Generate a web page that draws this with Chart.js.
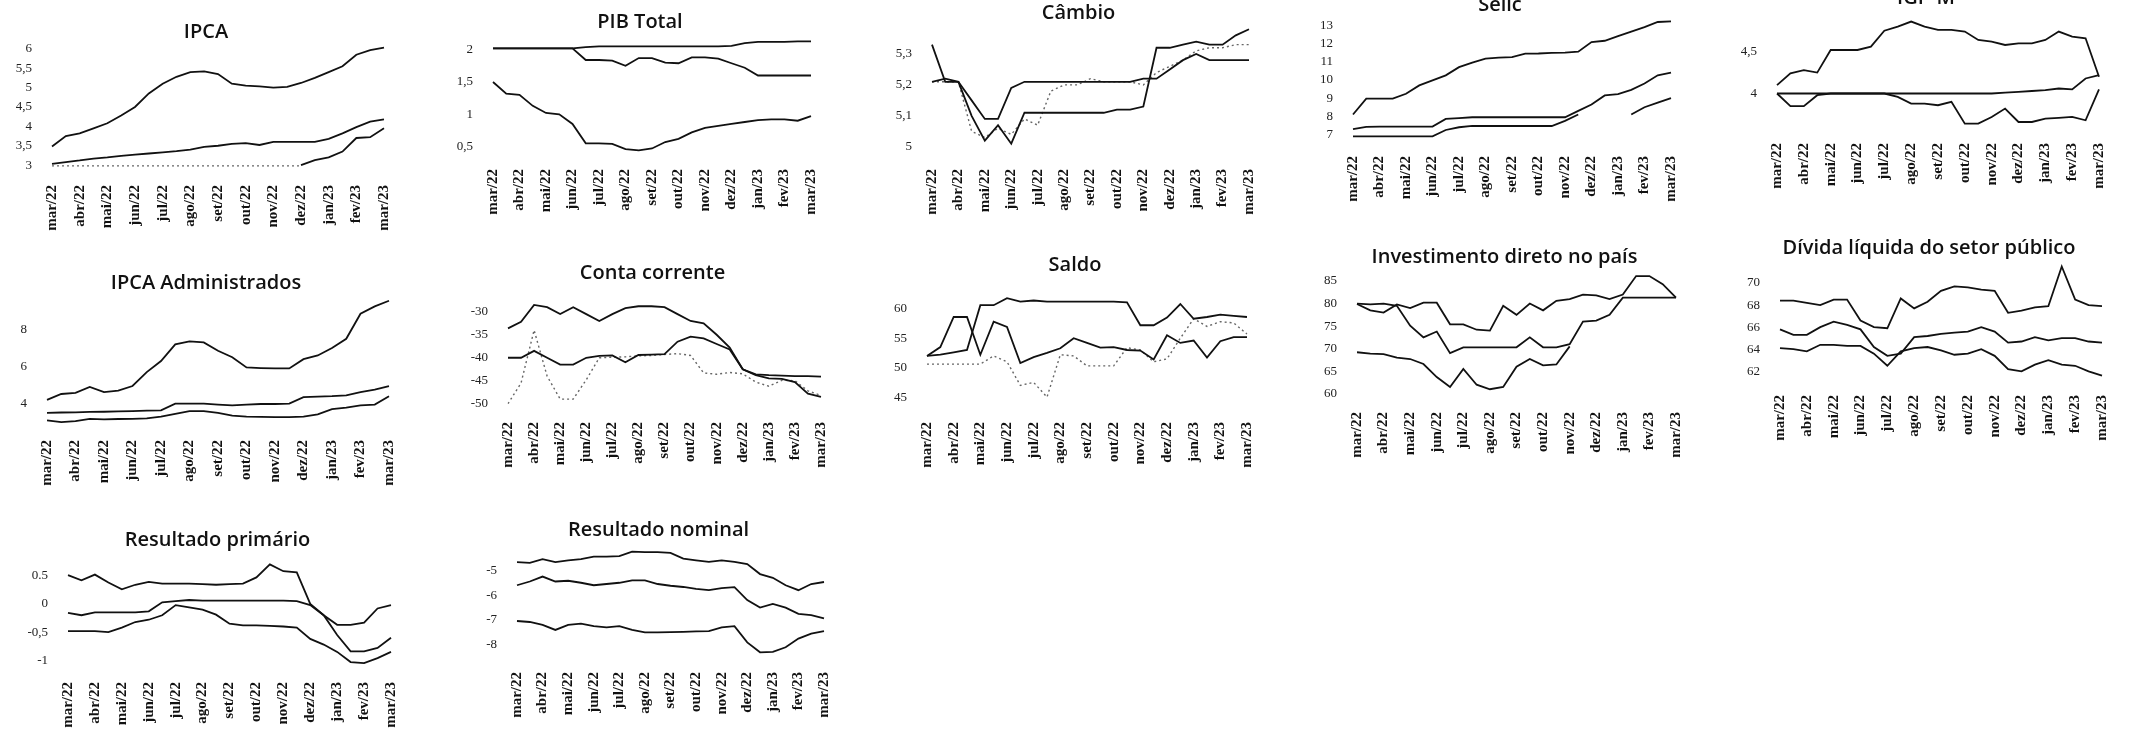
<!DOCTYPE html>
<html>
<head>
<meta charset="utf-8">
<script src="https://cdn.jsdelivr.net/npm/chart.js@4"></script>
<style>
  body { margin: 0; width: 2144px; height: 733px; overflow: hidden; background: #fff; position: relative; }
  canvas { position: absolute; }
</style>
</head>
<body>
<script>
// eixo x: meses, um ponto a cada quinzena
const meses = ["mar/22","abr/22","mai/22","jun/22","jul/22","ago/22","set/22","out/22","nov/22","dez/22","jan/23","fev/23","mar/23"];
const rotulosX = meses.flatMap((m, i) => i < meses.length - 1 ? [m, ""] : [m]);

// IPCA
const ipcaA = [3.48,3.75,3.82,3.95,4.08,4.28,4.5,4.85,5.1,5.28,5.4,5.42,5.35,5.1,5.05,5.03,5.0,5.02,5.12,5.25,5.4,5.55,5.85,5.97,6.03];
const ipcaB = [3.03,3.08,3.12,3.17,3.2,3.24,3.27,3.3,3.33,3.36,3.4,3.47,3.5,3.55,3.57,3.52,3.6,3.6,3.6,3.6,3.68,3.82,3.98,4.12,4.18];
const ipcaC = [null,null,null,null,null,null,null,null,null,null,null,null,null,null,null,null,null,null,3.0,3.13,3.2,3.35,3.7,3.72,3.95];
const ipcaD = [2.98,2.98,2.98,2.98,2.98,2.98,2.98,2.98,2.98,2.98,2.98,2.98,2.98,2.98,2.98,2.98,2.98,2.98,2.98,null,null,null,null,null,null];
const ipcaTicks = [3,3.5,4,4.5,5,5.5,6];
const ipcaTickLabels = ["3","3,5","4","4,5","5","5,5","6"];

// PIB Total
const pibA = [2.02,2.02,2.02,2.02,2.02,2.02,2.02,2.04,2.05,2.05,2.05,2.05,2.05,2.05,2.05,2.05,2.05,2.05,2.06,2.1,2.12,2.12,2.12,2.13,2.13];
const pibB = [2.02,2.02,2.02,2.02,2.02,2.02,2.02,1.84,1.84,1.83,1.75,1.87,1.87,1.8,1.79,1.88,1.88,1.86,1.79,1.72,1.6,1.6,1.6,1.6,1.6];
const pibC = [1.5,1.32,1.3,1.13,1.02,1.0,0.85,0.55,0.55,0.54,0.46,0.44,0.47,0.57,0.62,0.72,0.79,0.82,0.85,0.88,0.91,0.92,0.92,0.9,0.97];
const pibTicks = [0.5,1,1.5,2];
const pibTickLabels = ["0,5","1","1,5","2"];

// Câmbio
const cambioA = [5.33,5.21,5.21,5.15,5.09,5.09,5.19,5.21,5.21,5.21,5.21,5.21,5.21,5.21,5.21,5.21,5.22,5.22,5.25,5.28,5.3,5.28,5.28,5.28,5.28];
const cambioB = [5.21,5.22,5.21,5.1,5.02,5.07,5.01,5.11,5.11,5.11,5.11,5.11,5.11,5.11,5.12,5.12,5.13,5.32,5.32,5.33,5.34,5.33,5.33,5.36,5.38];
const cambioC = [5.21,5.21,5.21,5.05,5.03,5.06,5.04,5.09,5.07,5.18,5.2,5.2,5.22,5.21,5.21,5.21,5.2,5.24,5.26,5.28,5.31,5.32,5.32,5.33,5.33];
const cambioTicks = [5,5.1,5.2,5.3];
const cambioTickLabels = ["5","5,1","5,2","5,3"];

// Selic
const selicA = [8.1,8.97,8.97,8.97,9.24,9.7,9.97,10.25,10.7,10.95,11.17,11.22,11.25,11.44,11.45,11.48,11.5,11.55,12.08,12.15,12.4,12.65,12.9,13.18,13.22];
const selicB = [7.3,7.42,7.44,7.44,7.44,7.44,7.44,7.86,7.9,7.95,7.95,7.95,7.95,7.95,7.95,7.95,7.95,8.3,8.65,9.15,9.22,9.45,9.8,10.25,10.4];
const selicC = [6.9,6.9,6.9,6.9,6.9,6.9,6.9,7.25,7.4,7.47,7.47,7.47,7.47,7.47,7.47,7.47,7.75,8.1,null,null,null,null,null,null,null];
const selicD = [null,null,null,null,null,null,null,null,null,null,null,null,null,null,null,null,null,null,null,null,null,8.1,8.5,8.75,9.0];
const selicTicks = [7,8,9,10,11,12,13];
const selicTickLabels = ["7","8","9","10","11","12","13"];

// IGP-M
const igpA = [4.1,4.24,4.28,4.25,4.52,4.52,4.52,4.56,4.75,4.8,4.86,4.8,4.76,4.76,4.74,4.64,4.62,4.58,4.6,4.6,4.64,4.74,4.68,4.66,4.2];
const igpB = [4.0,4.0,4.0,4.0,4.0,4.0,4.0,4.0,4.0,4.0,4.0,4.0,4.0,4.0,4.0,4.0,4.0,4.01,4.02,4.03,4.04,4.06,4.05,4.18,4.22];
const igpC = [4.0,3.85,3.85,3.98,4.0,4.0,4.0,4.0,4.0,3.96,3.88,3.88,3.86,3.9,3.64,3.64,3.72,3.82,3.66,3.66,3.7,3.71,3.72,3.68,4.05];
const igpTicks = [4,4.5];
const igpTickLabels = ["4","4,5"];

// IPCA Administrados
const admA = [4.2,4.52,4.58,4.9,4.62,4.7,4.95,5.7,6.3,7.2,7.36,7.3,6.85,6.5,5.95,5.92,5.9,5.9,6.4,6.6,7.0,7.5,8.85,9.25,9.55];
const admB = [3.5,3.52,3.53,3.55,3.56,3.58,3.6,3.62,3.64,4.0,4.0,4.0,3.95,3.9,3.95,3.98,3.98,4.0,4.35,4.38,4.4,4.45,4.62,4.75,4.95];
const admC = [3.1,3.0,3.05,3.18,3.15,3.17,3.18,3.2,3.3,3.45,3.6,3.6,3.5,3.35,3.3,3.28,3.27,3.27,3.3,3.42,3.7,3.78,3.9,3.95,4.4];
const admTicks = [4,6,8];
const admTickLabels = ["4","6","8"];

// Conta corrente
const contaA = [-33.6,-32.2,-28.5,-29,-30.5,-29,-30.5,-32,-30.5,-29.2,-28.8,-28.8,-29,-30.5,-32,-32.5,-35,-37.8,-42.5,-43.6,-43.8,-43.9,-44,-44,-44.1];
const contaB = [-40,-40,-38.5,-40,-41.5,-41.5,-40,-39.6,-39.5,-41,-39.4,-39.3,-39.2,-36.5,-35.4,-35.8,-37,-38.2,-42.5,-43.8,-44.5,-44.6,-45.3,-47.8,-48.5];
const contaC = [-50,-45.5,-34,-44,-49,-49,-44.8,-40,-39.9,-39.8,-39.6,-39.5,-39.3,-39.1,-39.5,-43.3,-43.6,-43.2,-43.5,-45.3,-46.2,-44.9,-45,-47.2,-48.2];
const contaTicks = [-50,-45,-40,-35,-30];
const contaTickLabels = ["-50","-45","-40","-35","-30"];

// Saldo
const saldoA = [52,52.2,52.6,53,60.6,60.6,61.8,61.2,61.4,61.2,61.2,61.2,61.2,61.2,61.2,61.1,57.2,57.2,58.5,60.8,58.3,58.6,59,58.8,58.6];
const saldoB = [52,53.5,58.6,58.6,52.2,57.8,56.9,50.8,51.8,52.5,53.3,55,54.2,53.4,53.5,53,52.9,51.4,55.5,54.2,54.6,51.7,54.5,55.2,55.2];
const saldoC = [50.6,50.6,50.6,50.6,50.6,52,51,47,47.5,45,52.2,52,50.3,50.3,50.3,53.4,53,51,51.5,55,58.3,57,57.8,57.6,55.7];
const saldoTicks = [45,50,55,60];
const saldoTickLabels = ["45","50","55","60"];

// Investimento direto no país
const idpA = [79.9,78.5,78,79.8,79,80.2,80.2,75.4,75.4,74.2,74,79.5,77.5,80,78.5,80.6,81,82,81.8,81,82,86.1,86.1,84.3,81.3];
const idpB = [80,79.8,80,79.5,75.1,72.5,73.8,69,70.3,70.3,70.3,70.3,70.3,72.5,70.3,70.3,71,76,76.2,77.5,81.3,81.3,81.3,81.3,81.3];
const idpC = [69.2,68.9,68.8,68,67.7,66.6,63.7,61.5,65.5,62,61,61.5,66,67.7,66.3,66.5,70.5,null,null,null,null,null,null,null,null];
const idpTicks = [60,65,70,75,80,85];
const idpTickLabels = ["60","65","70","75","80","85"];

// Dívida líquida do setor público
const dividaA = [68.4,68.4,68.2,68,68.5,68.5,66.6,66,65.9,68.6,67.7,68.3,69.3,69.7,69.6,69.4,69.3,67.3,67.5,67.8,67.9,71.5,68.5,68,67.9];
const dividaB = [65.8,65.3,65.3,66,66.5,66.2,65.8,64.2,63.4,63.6,65.1,65.2,65.4,65.5,65.6,66,65.6,64.6,64.7,65.1,64.8,65,65,64.7,64.6];
const dividaC = [64.1,64,63.8,64.4,64.4,64.3,64.3,63.6,62.5,63.8,64.1,64.2,63.9,63.5,63.6,64,63.4,62.2,62,62.6,63,62.6,62.5,62,61.6];
const dividaTicks = [62,64,66,68,70];
const dividaTickLabels = ["62","64","66","68","70"];

// Resultado primário
const primA = [0.51,0.42,0.52,0.38,0.26,0.34,0.39,0.36,0.36,0.36,0.35,0.34,0.35,0.36,0.47,0.7,0.58,0.56,0.0,-0.2,-0.37,-0.37,-0.33,-0.08,-0.02];
const primB = [-0.16,-0.2,-0.15,-0.15,-0.15,-0.15,-0.13,0.03,0.05,0.07,0.06,0.06,0.06,0.06,0.06,0.06,0.06,0.05,-0.02,-0.2,-0.55,-0.84,-0.84,-0.78,-0.6];
const primC = [-0.48,-0.48,-0.48,-0.5,-0.42,-0.32,-0.28,-0.2,-0.02,-0.06,-0.1,-0.19,-0.35,-0.38,-0.38,-0.39,-0.4,-0.42,-0.62,-0.72,-0.85,-1.03,-1.05,-0.96,-0.85];
const primTicks = [-1,-0.5,0,0.5];
const primTickLabels = ["-1","-0,5","0","0.5"];

// Resultado nominal
const nomA = [-4.67,-4.7,-4.55,-4.67,-4.6,-4.55,-4.45,-4.45,-4.43,-4.25,-4.27,-4.27,-4.3,-4.53,-4.6,-4.66,-4.6,-4.66,-4.75,-5.15,-5.3,-5.6,-5.8,-5.55,-5.47];
const nomB = [-5.6,-5.45,-5.25,-5.45,-5.42,-5.5,-5.6,-5.55,-5.5,-5.4,-5.4,-5.55,-5.62,-5.67,-5.75,-5.8,-5.72,-5.68,-6.2,-6.5,-6.35,-6.5,-6.75,-6.8,-6.93];
const nomC = [-7.04,-7.08,-7.2,-7.4,-7.2,-7.15,-7.25,-7.3,-7.25,-7.4,-7.5,-7.5,-7.49,-7.48,-7.46,-7.45,-7.3,-7.25,-7.9,-8.3,-8.28,-8.1,-7.75,-7.55,-7.45];
const nomTicks = [-8,-7,-6,-5];
const nomTickLabels = ["-8","-7","-6","-5"];

// painéis: posição da área do gráfico (x0..x1, y0..y1) e do título
const paineis = [
  { titulo: "IPCA", series: [ipcaA, ipcaB, ipcaC, ipcaD], pontilhadas: [3], ticks: ipcaTicks, rotulos: ipcaTickLabels, min: 2.9, max: 6.1, x0: 52, x1: 400, y0: 45, y1: 169, tituloY: 32 },
  { titulo: "PIB Total", series: [pibA, pibB, pibC], pontilhadas: [], ticks: pibTicks, rotulos: pibTickLabels, min: 0.4, max: 2.15, x0: 493, x1: 827, y0: 40, y1: 153, tituloY: 22 },
  { titulo: "Câmbio", series: [cambioA, cambioB, cambioC], pontilhadas: [2], ticks: cambioTicks, rotulos: cambioTickLabels, min: 4.98, max: 5.4, x0: 932, x1: 1265, y0: 22, y1: 153, tituloY: 13 },
  { titulo: "Selic", series: [selicA, selicB, selicC, selicD], pontilhadas: [], ticks: selicTicks, rotulos: selicTickLabels, min: 6.7, max: 13.4, x0: 1353, x1: 1687, y0: 18, y1: 140, tituloY: 5 },
  { titulo: "IGP-M", series: [igpA, igpB, igpC], pontilhadas: [], ticks: igpTicks, rotulos: igpTickLabels, min: 3.6, max: 4.95, x0: 1777, x1: 2115, y0: 14, y1: 127, tituloY: -2 },
  { titulo: "IPCA Administrados", series: [admA, admB, admC], pontilhadas: [], ticks: admTicks, rotulos: admTickLabels, min: 2.9, max: 9.7, x0: 47, x1: 405, y0: 298, y1: 424, tituloY: 283 },
  { titulo: "Conta corrente", series: [contaA, contaB, contaC], pontilhadas: [2], ticks: contaTicks, rotulos: contaTickLabels, min: -50.5, max: -27, x0: 508, x1: 837, y0: 298, y1: 406, tituloY: 273 },
  { titulo: "Saldo", series: [saldoA, saldoB, saldoC], pontilhadas: [2], ticks: saldoTicks, rotulos: saldoTickLabels, min: 43.5, max: 62.5, x0: 927, x1: 1263, y0: 294, y1: 406, tituloY: 265 },
  { titulo: "Investimento direto no país", series: [idpA, idpB, idpC], pontilhadas: [], ticks: idpTicks, rotulos: idpTickLabels, min: 59.5, max: 87, x0: 1357, x1: 1692, y0: 272, y1: 396, tituloY: 257 },
  { titulo: "Dívida líquida do setor público", series: [dividaA, dividaB, dividaC], pontilhadas: [], ticks: dividaTicks, rotulos: dividaTickLabels, min: 61.3, max: 72, x0: 1780, x1: 2118, y0: 261, y1: 379, tituloY: 248 },
  { titulo: "Resultado primário", series: [primA, primB, primC], pontilhadas: [], ticks: primTicks, rotulos: primTickLabels, min: -1.1, max: 0.85, x0: 68, x1: 407, y0: 556, y1: 666, tituloY: 540 },
  { titulo: "Resultado nominal", series: [nomA, nomB, nomC], pontilhadas: [], ticks: nomTicks, rotulos: nomTickLabels, min: -8.45, max: -4.1, x0: 517, x1: 840, y0: 548, y1: 656, tituloY: 530 }
];

const larguraY = 40;
const alturaX = 74;
const margemDireita = 10;
const tamanhoTitulo = 20;

function desenharPainel(p) {
  const topo = p.tituloY - tamanhoTitulo / 2;
  const folga = Math.max(0, p.y0 - p.tituloY - tamanhoTitulo / 2);
  const largura = p.x1 - p.x0 + larguraY + margemDireita;
  const altura = p.y1 - topo + alturaX;
  const canvas = document.createElement("canvas");
  canvas.width = Math.round(largura);
  canvas.height = Math.round(altura);
  canvas.style.left = (p.x0 - larguraY) + "px";
  canvas.style.top = topo + "px";
  document.body.appendChild(canvas);

  const conjuntos = p.series.map((s, i) => {
    const pont = p.pontilhadas.includes(i);
    return {
      data: s,
      borderColor: pont ? "#666" : "#111",
      borderWidth: pont ? 1.4 : 1.8,
      borderDash: pont ? [2, 3] : [],
      pointRadius: 0,
      tension: 0,
      spanGaps: false
    };
  });

  new Chart(canvas, {
    type: "line",
    data: { labels: rotulosX, datasets: conjuntos },
    options: {
      responsive: false,
      animation: false,
      layout: { padding: { right: margemDireita } },
      plugins: {
        legend: { display: false },
        tooltip: { enabled: false },
        title: {
          display: true,
          text: p.titulo,
          color: "#111",
          font: { family: "Open Sans", size: tamanhoTitulo, weight: "600", lineHeight: 1 },
          padding: { top: 0, bottom: folga }
        }
      },
      scales: {
        x: {
          grid: { display: false },
          border: { display: false },
          ticks: {
            autoSkip: false, minRotation: 90, maxRotation: 90, padding: 8,
            color: "#111",
            font: { family: "Liberation Serif", size: 15, weight: "bold" }
          },
          afterFit(scale) { scale.height = alturaX; }
        },
        y: {
          min: p.min,
          max: p.max,
          grid: { display: false },
          border: { display: false },
          afterBuildTicks(scale) { scale.ticks = p.ticks.map(v => ({ value: v })); },
          ticks: {
            padding: 12,
            color: "#222",
            font: { family: "Liberation Serif", size: 13 },
            callback: (v) => {
              const i = p.ticks.indexOf(v);
              return i >= 0 ? p.rotulos[i] : "";
            }
          },
          afterFit(scale) { scale.width = larguraY; }
        }
      }
    }
  });
}

paineis.forEach(desenharPainel);
</script>
</body>
</html>
